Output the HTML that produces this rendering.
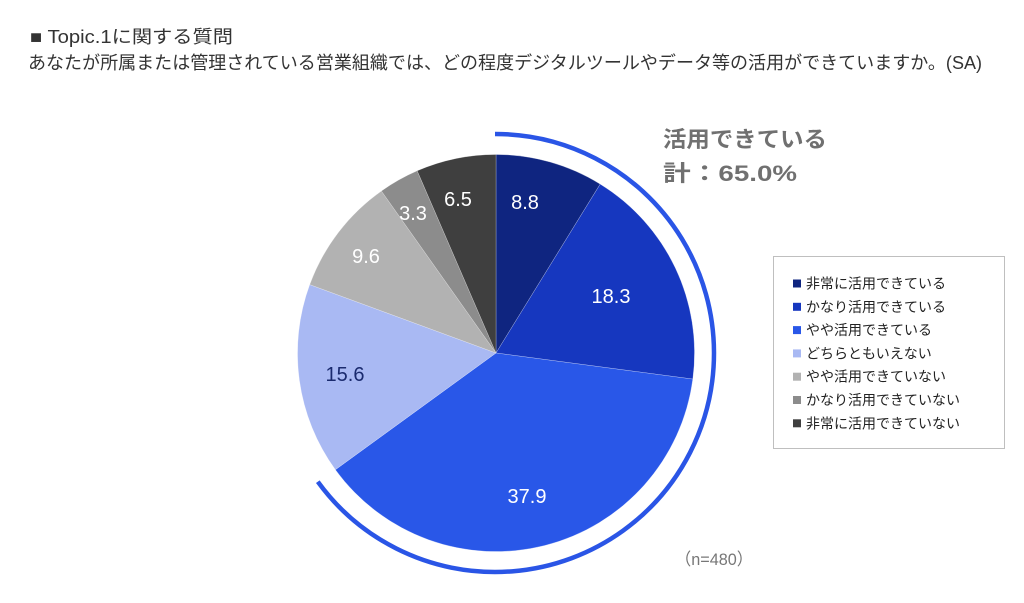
<!DOCTYPE html>
<html>
<head>
<meta charset="utf-8">
<style>
  html, body { margin: 0; padding: 0; background: #ffffff; }
  body { width: 1024px; height: 603px; overflow: hidden; }
  svg { display: block; }
  .jp { font-family: "Liberation Sans", "Noto Sans CJK JP", sans-serif; }
</style>
</head>
<body>
<svg width="1024" height="603" viewBox="0 0 1024 603" xmlns="http://www.w3.org/2000/svg">
  <rect x="0" y="0" width="1024" height="603" fill="#ffffff"/>

  <!-- Title -->
  <text class="jp" x="30" y="43" font-size="18" fill="#333333" textLength="203" lengthAdjust="spacingAndGlyphs">■ Topic.1に関する質問</text>
  <text class="jp" x="28" y="69" font-size="18" fill="#333333" textLength="954" lengthAdjust="spacingAndGlyphs">あなたが所属または管理されている営業組織では、どの程度デジタルツールやデータ等の活用ができていますか。(SA)</text>

  <!-- Pie slices: center (496,353), r 198.5 -->
  <g stroke="#ffffff" stroke-width="0.4" stroke-opacity="0.6">
    <path d="M496,353 L496,154.5 A198.5,198.5 0 0 1 600.2,184.1 Z" fill="#0f2580"/>
    <path d="M496,353 L600.2,184.1 A198.5,198.5 0 0 1 692.8,379.1 Z" fill="#1637bf"/>
    <path d="M496,353 L692.8,379.1 A198.5,198.5 0 0 1 335.4,469.7 Z" fill="#2957e8"/>
    <path d="M496,353 L335.4,469.7 A198.5,198.5 0 0 1 309.7,284.6 Z" fill="#a9b9f3"/>
    <path d="M496,353 L309.7,284.6 A198.5,198.5 0 0 1 381.4,191.0 Z" fill="#b2b2b2"/>
    <path d="M496,353 L381.4,191.0 A198.5,198.5 0 0 1 417.2,170.8 Z" fill="#8c8c8c"/>
    <path d="M496,353 L417.2,170.8 A198.5,198.5 0 0 1 496,154.5 Z" fill="#3f3f3f"/>
  </g>

  <!-- Outer arc (65%) -->
  <path d="M495,134 A219,219 0 1 1 317.8,481.7" fill="none" stroke="#2a55e6" stroke-width="4.5"/>

  <!-- Slice labels -->
  <g class="jp" font-size="20" text-anchor="middle" dominant-baseline="central">
    <text x="525" y="203" fill="#ffffff">8.8</text>
    <text x="611" y="297" fill="#ffffff">18.3</text>
    <text x="527" y="497" fill="#ffffff">37.9</text>
    <text x="345" y="375" fill="#1a2a6e">15.6</text>
    <text x="366" y="257" fill="#ffffff">9.6</text>
    <text x="413" y="214" fill="#ffffff">3.3</text>
    <text x="458" y="200" fill="#ffffff">6.5</text>
  </g>

  <!-- Callout -->
  <text class="jp" x="663" y="147" font-size="22" font-weight="bold" fill="#707070" textLength="164" lengthAdjust="spacingAndGlyphs">活用できている</text>
  <text class="jp" x="663" y="181" font-size="22" font-weight="bold" fill="#707070" textLength="134" lengthAdjust="spacingAndGlyphs">計：65.0%</text>

  <!-- Legend -->
  <rect x="773.5" y="256.5" width="231" height="192" fill="#ffffff" stroke="#bfbfbf" stroke-width="1"/>
  <g class="jp" font-size="14" fill="#222222">
    <rect x="793" y="279.5" width="8" height="8" fill="#0f2580"/>
    <text x="806" y="288.5">非常に活用できている</text>
    <rect x="793" y="302.8" width="8" height="8" fill="#1637bf"/>
    <text x="806" y="311.8">かなり活用できている</text>
    <rect x="793" y="326.1" width="8" height="8" fill="#2957e8"/>
    <text x="806" y="335.1">やや活用できている</text>
    <rect x="793" y="349.4" width="8" height="8" fill="#a9b9f3"/>
    <text x="806" y="358.4">どちらともいえない</text>
    <rect x="793" y="372.7" width="8" height="8" fill="#b2b2b2"/>
    <text x="806" y="381.7">やや活用できていない</text>
    <rect x="793" y="396" width="8" height="8" fill="#8c8c8c"/>
    <text x="806" y="405">かなり活用できていない</text>
    <rect x="793" y="419.3" width="8" height="8" fill="#3f3f3f"/>
    <text x="806" y="428.3">非常に活用できていない</text>
  </g>

  <!-- n -->
  <text class="jp" x="675" y="565" font-size="17" fill="#777777" textLength="78" lengthAdjust="spacingAndGlyphs">（n=480）</text>
</svg>
</body>
</html>
